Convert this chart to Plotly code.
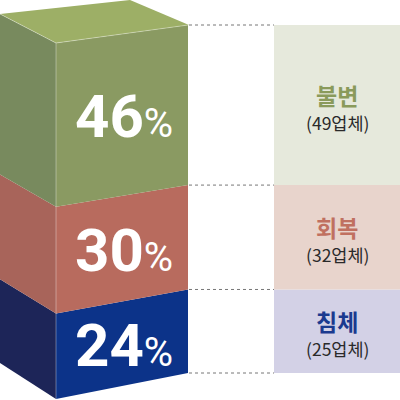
import plotly.graph_objects as go

# data (bottom to top)
labels = ['침체', '회복', '불변']
shares = [24, 30, 46]
counts = [25, 32, 49]
front_colors = ['#0c3389', '#b86b5e', '#8a9a62']
side_colors = ['#1d2558', '#a8645a', '#788a5e']
box_colors = ['#d3d1e6', '#e8d4cc', '#e6e9dc']
title_colors = ['#1b3a8f', '#c07060', '#8a9a5b']
top_color = '#9daf66'

# cube geometry in page pixels (y grows downward)
X_BACK, X_FL, X_FR, X_BOX = 0, 56, 188, 274
total = sum(shares)


def y_back(v):
    return 363 - v / total * 349


def y_fl(v):
    return 399 - v / total * 356


def y_fr(v):
    return 373 - v / total * 348


fig = go.Figure()

cum = 0
for i, s in enumerate(shares):
    v0, v1 = cum, cum + s
    cum = v1
    # left side face
    fig.add_trace(go.Scatter(
        x=[X_BACK, X_FL, X_FL, X_BACK, X_BACK],
        y=[y_back(v0), y_fl(v0), y_fl(v1), y_back(v1), y_back(v0)],
        fill='toself', fillcolor=side_colors[i], mode='lines',
        line=dict(width=0), hoverinfo='skip'))
    # front face
    fig.add_trace(go.Scatter(
        x=[X_FL, X_FR, X_FR, X_FL, X_FL],
        y=[y_fl(v0), y_fr(v0), y_fr(v1), y_fl(v1), y_fl(v0)],
        fill='toself', fillcolor=front_colors[i], mode='lines',
        line=dict(width=0), hoverinfo='skip'))
    # right info box
    fig.add_trace(go.Scatter(
        x=[X_BOX, 400, 400, X_BOX, X_BOX],
        y=[y_fr(v0), y_fr(v0), y_fr(v1), y_fr(v1), y_fr(v0)],
        fill='toself', fillcolor=box_colors[i], mode='lines',
        line=dict(width=0), hoverinfo='skip'))
    # percentage on front face
    ym = (y_fl(v0) + y_fl(v1) + y_fr(v0) + y_fr(v1)) / 4
    fig.add_annotation(
        x=(X_FL + X_FR) / 2 + 2, y=ym + 2, showarrow=False,
        text=f'<b>{s}</b><span style="font-size:40px">%</span>',
        font=dict(family='Roboto, sans-serif', size=60, color='white'))
    # labels in the box
    yb = (y_fr(v0) + y_fr(v1)) / 2
    fig.add_annotation(x=337, y=yb - 10, showarrow=False, text=f'<b>{labels[i]}</b>',
                       font=dict(family='Noto Sans CJK KR', size=23, color=title_colors[i]))
    fig.add_annotation(x=337, y=yb + 17, showarrow=False, text=f'({counts[i]}업체)',
                       font=dict(family='Noto Sans CJK KR', size=17.5, color='#2a2a2a'))

# top face of the cube
fig.add_trace(go.Scatter(
    x=[X_BACK, 130, X_FR + 1, X_FL, X_BACK],
    y=[y_back(total), 0, y_fr(total), y_fl(total), y_back(total)],
    fill='toself', fillcolor=top_color, mode='lines',
    line=dict(width=0), hoverinfo='skip'))
# light edge lines
fig.add_trace(go.Scatter(
    x=[X_FL, X_FL, None, X_BACK, X_FL, X_FR],
    y=[y_fl(0), y_fl(total), None, y_back(total), y_fl(total), y_fr(total)],
    mode='lines', line=dict(color='rgba(255,255,255,0.35)', width=1), hoverinfo='skip'))

# dotted connector lines
cum_levels = [0]
for s in shares:
    cum_levels.append(cum_levels[-1] + s)
for v in cum_levels:
    fig.add_trace(go.Scatter(
        x=[X_FR + 1, X_BOX], y=[y_fr(v), y_fr(v)], mode='lines',
        line=dict(color='#777777', width=1, dash='dot'), hoverinfo='skip'))

fig.update_layout(
    width=400, height=400, autosize=False,
    margin=dict(l=0, r=0, t=0, b=0),
    paper_bgcolor='white', plot_bgcolor='white',
    showlegend=False,
    xaxis=dict(range=[0, 400], visible=False, fixedrange=True),
    yaxis=dict(range=[400, 0], visible=False, fixedrange=True),
)

fig.write_html('out.html', config={'displayModeBar': False},
               post_script="document.body.style.margin='0';document.body.style.overflow='hidden';")
